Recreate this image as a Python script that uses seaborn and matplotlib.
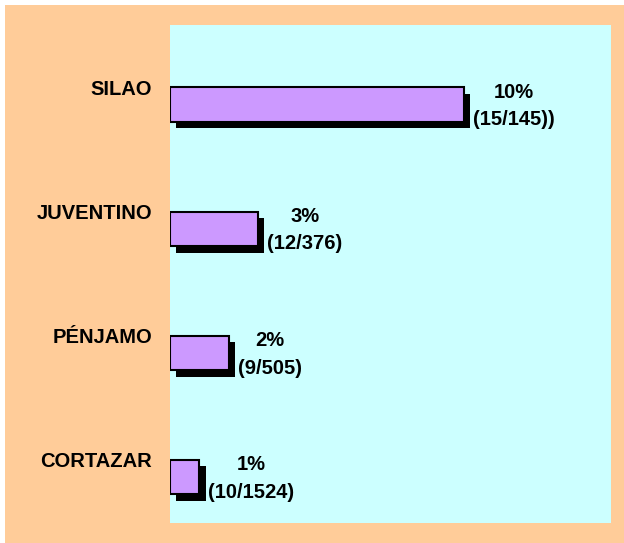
import matplotlib
matplotlib.use("Agg")
import matplotlib.pyplot as plt
import matplotlib.patheffects as pe
from matplotlib.patches import Rectangle
import seaborn as sns
import pandas as pd
import numpy as np

# data
municipios = ["SILAO", "JUVENTINO", "PÉNJAMO", "CORTAZAR"]
porcentaje = [10, 3, 2, 1]
detalle = ["(15/145))", "(12/376)", "(9/505)", "(10/1524)"]

df = pd.DataFrame({"Municipio": municipios, "Porcentaje": porcentaje})

sns.set_style("white")
plt.rcParams["font.family"] = ["Liberation Sans", "DejaVu Sans"]
plt.rcParams["font.weight"] = "bold"
plt.rcParams["text.color"] = "black"
plt.rcParams["ytick.color"] = "black"

W, H = 624, 543
fig = plt.figure(figsize=(W / 100, H / 100), dpi=100)
fig.patch.set_facecolor("white")
# peach panel behind the axes
fig.patches.append(Rectangle((5 / W, 0), 1 - 5 / W, 1 - 5 / H, transform=fig.transFigure,
                             facecolor="#FFCC99", edgecolor="none", zorder=-10))

ax = fig.add_axes([170 / W, 1 - 523 / H, (611 - 170) / W, (523 - 25) / H])
ax.set_facecolor("#CCFFFF")

sns.barplot(data=df, x="Porcentaje", y="Municipio", orient="h", color="#CC99FF",
            saturation=1, edgecolor="black", linewidth=1.5, width=0.28, ax=ax)

shadow = [pe.SimplePatchShadow(offset=(4.5, -4.5), shadow_rgbFace="black", alpha=1), pe.Normal()]
for bar in ax.patches:
    bar.set_path_effects(shadow)

for i, (p, d) in enumerate(zip(porcentaje, detalle)):
    ax.annotate(f"{p}%\n{d}", xy=(p, i), xytext=(6.5, -1), textcoords="offset points",
                ha="left", va="center", multialignment="center", fontsize=14.5,
                fontweight="bold", color="black", linespacing=1.55)

ax.set_xlim(0, 15)
ax.set_ylim(3.37, -0.643)
ax.set_yticks(np.arange(len(municipios)) - 0.14)
ax.set_yticklabels(municipios, fontsize=14.5, fontweight="bold", color="black")
ax.tick_params(axis="y", length=0, pad=13)
ax.set_xticks([])
ax.set_xlabel("")
ax.set_ylabel("")
for s in ax.spines.values():
    s.set_visible(False)

fig.savefig("out.png", dpi=100)
